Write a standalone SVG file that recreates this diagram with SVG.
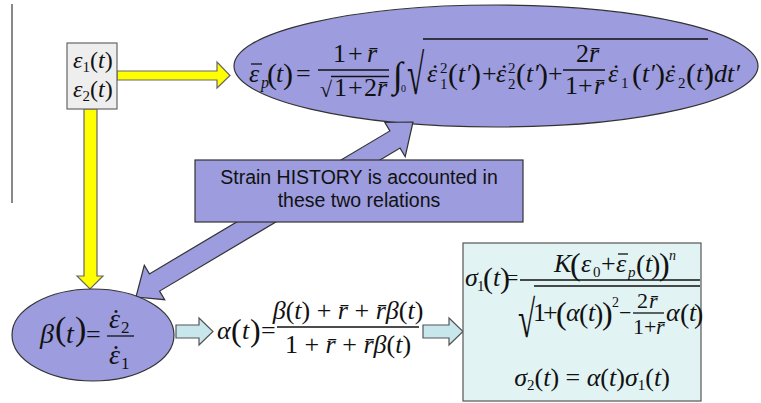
<svg xmlns="http://www.w3.org/2000/svg" width="761" height="403" viewBox="0 0 761 403">
<style>
.m{font-family:"Liberation Serif","DejaVu Serif",serif;font-style:italic;fill:#111}
.u{font-style:normal}
.s{font-size:15px}
.dot{font-family:"Liberation Serif","DejaVu Serif",serif;font-style:normal;fill:#111;text-anchor:middle}
.lbl{font-family:"Liberation Sans",Arial,sans-serif;font-size:19.5px;fill:#111;text-anchor:middle}
.purple{fill:#9c9cde;stroke:#333;stroke-width:1.2}
.yarrow{fill:#ffff00;stroke:#666;stroke-width:1.2}
.carrow{fill:#c8e7ec;stroke:#555;stroke-width:1.2}
.bar{stroke:#111;stroke-width:1.3}
.mid{text-anchor:middle}
</style>
<rect width="761" height="403" fill="#fff"/>
<line x1="12" y1="4" x2="12" y2="203" stroke="#888" stroke-width="2"/>

<g id="connectors">
  <polygon class="yarrow" points="117,71 217,71 217,62 230,75.5 217,88 217,80 117,80"/>
  <polygon class="yarrow" points="84,109 97,109 97,276 103,276 90,289 77,276 84,276"/>
  <polygon class="carrow" points="176,325 199,325 199,318 213,331.5 199,345 199,338 176,338"/>
  <polygon class="carrow" points="423,325 449,325 449,318 463,331.5 449,345 449,338 423,338"/>
</g>

<g id="node-eps-p">
  <ellipse class="purple" cx="496" cy="66" rx="262" ry="61"/>
  <text class="m" font-size="26">
    <tspan x="249" y="82">ε</tspan><tspan x="261" y="88" font-size="16">p</tspan><tspan class="u" x="267" y="84" font-size="30">(</tspan><tspan x="276" y="82">t</tspan><tspan class="u" x="283" y="84" font-size="30">)</tspan><tspan class="u" x="296" y="82">=</tspan>
    <tspan class="u" x="333" y="62">1</tspan><tspan class="u" x="348" y="62">+</tspan><tspan x="367" y="62">r̄</tspan>
    <tspan class="u" x="320" y="97" font-size="22">√</tspan><tspan class="u" x="334" y="96">1</tspan><tspan class="u" x="348" y="96">+</tspan><tspan class="u" x="364" y="96">2</tspan><tspan x="377" y="96">r̄</tspan>
    <tspan class="u" x="393" y="87" font-size="36">∫</tspan><tspan class="u" x="401" y="92" font-size="10">0</tspan>
    <tspan x="427" y="82">ε</tspan><tspan class="u s" x="440" y="73">2</tspan><tspan class="u s" x="440" y="89">1</tspan><tspan class="u" x="448" y="84" font-size="30">(</tspan><tspan x="458" y="82">t′</tspan><tspan class="u" x="471" y="84" font-size="30">)</tspan><tspan class="u" x="482" y="82">+</tspan>
    <tspan x="496" y="82">ε</tspan><tspan class="u s" x="508" y="73">2</tspan><tspan class="u s" x="508" y="89">2</tspan><tspan class="u" x="516" y="84" font-size="30">(</tspan><tspan x="526" y="82">t′</tspan><tspan class="u" x="538" y="84" font-size="30">)</tspan><tspan class="u" x="548" y="82">+</tspan>
    <tspan class="u" x="576" y="62">2</tspan><tspan x="589" y="62">r̄</tspan>
    <tspan class="u" x="565" y="94">1</tspan><tspan class="u" x="578" y="94">+</tspan><tspan x="594" y="94">r̄</tspan>
    <tspan x="608" y="82">ε</tspan><tspan class="u s" x="621" y="88">1</tspan><tspan class="u" x="632" y="84" font-size="30">(</tspan><tspan x="642" y="82">t′</tspan><tspan class="u" x="655" y="84" font-size="30">)</tspan>
    <tspan x="665" y="82">ε</tspan><tspan class="u s" x="678" y="88">2</tspan><tspan class="u" x="686" y="84" font-size="30">(</tspan><tspan x="696" y="82">t′</tspan><tspan class="u" x="704" y="84" font-size="30">)</tspan><tspan x="714" y="82">dt′</tspan>
  </text>
  <text class="dot" font-size="26"><tspan x="435" y="82">˙</tspan><tspan x="504" y="82">˙</tspan><tspan x="616" y="82">˙</tspan><tspan x="673" y="82">˙</tspan></text>
  <line class="bar" x1="251" y1="64" x2="262" y2="64"/>
  <line class="bar" x1="318" y1="70" x2="389" y2="70"/>
  <line class="bar" x1="331" y1="76.5" x2="389" y2="76.5"/>
  <text class="m u" font-size="57" transform="translate(407,94) scale(0.55,1)">√</text>
  <line class="bar" x1="423" y1="39" x2="708" y2="39"/>
  <line class="bar" x1="563" y1="70" x2="605" y2="70"/>
</g>

<g id="history-arrow">
  <polygon class="purple" points="136,297 144.3,265.3 149.4,273.9 389.9,130.9 384.8,122.3 413,122 405.2,156.7 400.1,148.1 159.6,291.1 164.7,299.7"/>
</g>

<g id="node-eps">
  <rect x="67" y="43" width="50" height="66" fill="#eeeeee" stroke="#666" stroke-width="1.2"/>
  <text class="m" x="73" y="68" font-size="24">ε<tspan class="s u" dy="4">1</tspan><tspan class="u" dy="-4">(</tspan>t<tspan class="u">)</tspan></text>
  <text class="m" x="73" y="97" font-size="24">ε<tspan class="s u" dy="4">2</tspan><tspan class="u" dy="-4">(</tspan>t<tspan class="u">)</tspan></text>
</g>

<g id="node-history">
  <rect class="purple" x="195" y="160" width="328" height="62" stroke="#555" stroke-width="1"/>
  <text class="lbl" x="359" y="184">Strain HISTORY is accounted in</text>
  <text class="lbl" x="359" y="207">these two relations</text>
</g>

<g id="node-beta">
  <ellipse class="purple" cx="93" cy="335" rx="81" ry="46"/>
  <text class="m" font-size="28">
    <tspan x="40" y="343">β</tspan><tspan class="u" x="55" y="340" font-size="34">(</tspan><tspan x="66" y="343">t</tspan><tspan class="u" x="75" y="340" font-size="34">)</tspan><tspan class="u" x="86" y="343" font-size="26">=</tspan>
    <tspan x="109" y="328">ε</tspan><tspan class="u" x="121" y="333" font-size="17">2</tspan>
    <tspan x="109" y="364">ε</tspan><tspan class="u" x="121" y="369" font-size="17">1</tspan>
  </text>
  <text class="dot" font-size="28"><tspan x="116" y="328">˙</tspan><tspan x="116" y="364">˙</tspan></text>
  <line class="bar" x1="107" y1="336" x2="134" y2="336"/>
</g>

<g id="node-alpha">
  <text class="m" font-size="26">
    <tspan x="217" y="339">α</tspan><tspan class="u" x="231" y="341" font-size="32">(</tspan><tspan x="242" y="339">t</tspan><tspan class="u" x="250" y="341" font-size="32">)</tspan><tspan class="u" x="261" y="339">=</tspan>
  </text>
  <text class="m mid" x="348" y="319" font-size="26">β<tspan class="u">(</tspan>t<tspan class="u">) + </tspan>r̄<tspan class="u"> + </tspan>r̄β<tspan class="u">(</tspan>t<tspan class="u">)</tspan></text>
  <line class="bar" x1="277" y1="327" x2="419" y2="327"/>
  <text class="m mid" x="348" y="353" font-size="26"><tspan class="u">1 + </tspan>r̄<tspan class="u"> + </tspan>r̄β<tspan class="u">(</tspan>t<tspan class="u">)</tspan></text>
</g>

<g id="node-sigma">
  <rect x="463" y="243" width="238" height="158" fill="#e2f3f3" stroke="#555" stroke-width="1.2"/>
  <text class="m" font-size="26">
    <tspan x="465" y="286">σ</tspan><tspan class="u s" x="477" y="291">1</tspan><tspan class="u" x="483" y="288" font-size="30">(</tspan><tspan x="493" y="286">t</tspan><tspan class="u" x="500" y="288" font-size="30">)</tspan><tspan class="u" x="507" y="285" font-size="20">=</tspan>
    <tspan x="554" y="272">K</tspan><tspan class="u" x="570" y="275" font-size="32">(</tspan><tspan x="581" y="272">ε</tspan><tspan class="u s" x="593" y="277">0</tspan><tspan class="u" x="601" y="272">+</tspan><tspan x="616" y="272">ε</tspan><tspan class="s" x="628" y="277">p</tspan><tspan class="u" x="636" y="274" font-size="28">(</tspan><tspan x="645" y="272">t</tspan><tspan class="u" x="651" y="274" font-size="28">)</tspan><tspan class="u" x="659" y="275" font-size="32">)</tspan><tspan x="669" y="260" font-size="14">n</tspan>
    <tspan class="u" x="533" y="321">1</tspan><tspan class="u" x="543" y="321">+</tspan><tspan class="u" x="556" y="324" font-size="32">(</tspan><tspan x="566" y="321">α</tspan><tspan class="u" x="579" y="323" font-size="28">(</tspan><tspan x="588" y="321">t</tspan><tspan class="u" x="594" y="323" font-size="28">)</tspan><tspan class="u" x="602" y="324" font-size="32">)</tspan><tspan class="u" x="612" y="307" font-size="14">2</tspan><tspan class="u" x="619" y="320" font-size="22">−</tspan>
    <tspan class="u" x="637" y="308" font-size="22">2</tspan><tspan x="649" y="308" font-size="22">r̄</tspan>
    <tspan class="u" x="633" y="334" font-size="22">1</tspan><tspan class="u" x="644" y="334" font-size="22">+</tspan><tspan x="656" y="334" font-size="22">r̄</tspan>
    <tspan x="666" y="321">α</tspan><tspan class="u" x="680" y="323" font-size="28">(</tspan><tspan x="689" y="321">t</tspan><tspan class="u" x="694" y="323" font-size="28">)</tspan>
  </text>
  <line class="bar" x1="618" y1="254" x2="628" y2="254"/>
  <line class="bar" x1="520" y1="280" x2="700" y2="280"/>
  <text class="m u" font-size="52" transform="translate(518,337) scale(0.6,1)">√</text>
  <line class="bar" x1="534" y1="286" x2="700" y2="286"/>
  <line class="bar" x1="633" y1="313" x2="664" y2="313"/>
  <text class="m mid" x="592" y="386" font-size="26">σ<tspan class="s u" dy="4">2</tspan><tspan class="u" dy="-4">(</tspan>t<tspan class="u">) = </tspan>α<tspan class="u">(</tspan>t<tspan class="u">)</tspan>σ<tspan class="s u" dy="4">1</tspan><tspan class="u" dy="-4">(</tspan>t<tspan class="u">)</tspan></text>
</g>
</svg>
